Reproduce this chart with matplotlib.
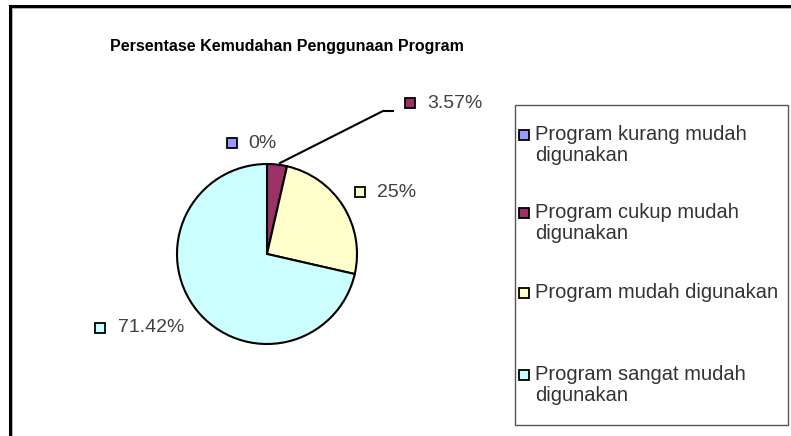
import matplotlib
matplotlib.use("Agg")
import matplotlib.pyplot as plt
import matplotlib.patches as mpatches

# data
kategori = [
    "Program kurang mudah\ndigunakan",
    "Program cukup mudah\ndigunakan",
    "Program mudah digunakan",
    "Program sangat mudah\ndigunakan",
]
persen = [0, 3.57, 25, 71.42]
label_persen = ["0%", "3.57%", "25%", "71.42%"]
warna = ["#9999FF", "#993366", "#FFFFCC", "#CCFFFF"]

W, H = 791, 436
plt.rcParams["font.family"] = ["Liberation Sans", "DejaVu Sans"]

fig = plt.figure(figsize=(W / 100, H / 100), dpi=100)
ax = fig.add_axes([0, 0, 1, 1])


def py(y):
    # baris piksel (dari atas) -> koordinat y sumbu
    return H - y


# pie
cx, cy, r = 267, py(254), 90
wedges, _ = ax.pie(persen, colors=warna, startangle=90, counterclock=False,
                   center=(cx, cy), radius=r, frame=True,
                   wedgeprops=dict(edgecolor="black", linewidth=1.5))
ax.set_xlim(0, W)
ax.set_ylim(0, H)
ax.set_aspect("equal")
ax.set_axis_off()

# bingkai luar (kiri + atas)
ax.plot([12, 12, W], [0, py(8), py(8)], color="#bbbbbb", lw=0.8, solid_joinstyle="miter")
ax.plot([10, 10, W], [0, py(6), py(6)], color="black", lw=2.2, solid_joinstyle="miter")

# judul
ax.text(287, py(51), "Persentase Kemudahan Penggunaan Program", fontsize=11.5,
        fontweight="bold", ha="center", va="baseline", color="black")

# label persentase: (x kotak, y, x teks)
pos_label = [(232, 143, 248), (410, 103, 427), (360, 192, 377), (100, 328, 118)]
for (xm, ym, xt), teks, c in zip(pos_label, label_persen, warna):
    ax.plot(xm, py(ym), marker="s", ms=6.5, mfc=c, mec="black", mew=1.3)
    ax.text(xt, py(ym), teks, fontsize=14, color="#404040", ha="left", va="center")

# garis penunjuk 3.57%
ax.plot([280, 383, 393], [py(163), py(111), py(111)], color="black", lw=1.5)

# legenda
ax.add_patch(mpatches.Rectangle((515, py(425)), 273, 320, facecolor="white",
                                edgecolor="#555555", lw=1.0))
y_leg = [135, 213, 293, 375]
for y0, teks, c in zip(y_leg, kategori, warna):
    ax.plot(524, py(y0), marker="s", ms=6.5, mfc=c, mec="black", mew=1.3)
    ax.text(535, py(y0 - 10), teks, fontsize=14.5, color="#333333", ha="left",
            va="top", linespacing=1.12)

fig.savefig("out.png", dpi=100, facecolor="white")
